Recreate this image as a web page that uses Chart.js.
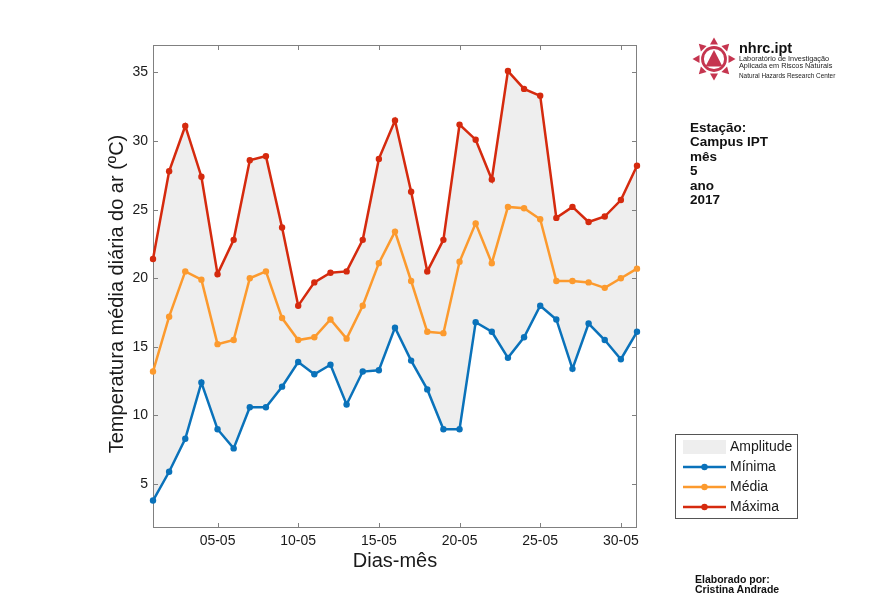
<!DOCTYPE html>
<html>
<head>
    <meta charset="utf-8">
    <title>Temperatura média diária do ar - Campus IPT, maio 2017</title>
    <script src="https://cdn.jsdelivr.net/npm/chart.js@4.4.0/dist/chart.umd.min.js"></script>
    <style>
        body {
            margin: 0;
            background-color: #fff;
            font-family: Arial, "Liberation Sans", sans-serif;
        }
        #wrap {
            position: relative;
            width: 890px;
            height: 593px;
            overflow: hidden;
        }
        #chart {
            position: absolute;
            left: 0;
            top: 0;
        }
        .logo-icon {
            position: absolute;
            left: 692px;
            top: 37px;
        }
        .logo-name {
            position: absolute;
            left: 739px;
            top: 39px;
            font-size: 14.5px;
            font-weight: bold;
            color: #111;
            line-height: 18px;
        }
        .logo-sub {
            position: absolute;
            left: 739px;
            top: 56px;
            font-size: 7.3px;
            line-height: 6.5px;
            color: #222;
            white-space: nowrap;
        }
        .logo-sub2 {
            position: absolute;
            left: 739px;
            top: 72px;
            font-size: 6.4px;
            line-height: 7px;
            color: #222;
            white-space: nowrap;
        }
        .info {
            position: absolute;
            left: 690px;
            top: 121px;
            font-size: 13.5px;
            font-weight: bold;
            line-height: 14.4px;
            color: #111;
        }
        .author {
            position: absolute;
            left: 695px;
            top: 574px;
            font-size: 10.5px;
            font-weight: bold;
            line-height: 10px;
            color: #111;
            white-space: nowrap;
        }
    </style>
</head>
<body>
<div id="wrap">
    <canvas id="chart" width="890" height="593"></canvas>

    <svg class="logo-icon" width="44" height="44" viewBox="0 0 44 44">
        <g fill="#C5354F">
            <circle cx="22" cy="22" r="11.5" fill="none" stroke="#C5354F" stroke-width="2.8"/>
            <polygon points="22,13 13.5,29.5 30.5,29.5"/>
            <polygon points="18,7.5 26,7.5 22,0.5"/>
            <polygon points="18,7.5 26,7.5 22,0.5" transform="rotate(45 22 22)"/>
            <polygon points="18,7.5 26,7.5 22,0.5" transform="rotate(90 22 22)"/>
            <polygon points="18,7.5 26,7.5 22,0.5" transform="rotate(135 22 22)"/>
            <polygon points="18,7.5 26,7.5 22,0.5" transform="rotate(180 22 22)"/>
            <polygon points="18,7.5 26,7.5 22,0.5" transform="rotate(225 22 22)"/>
            <polygon points="18,7.5 26,7.5 22,0.5" transform="rotate(270 22 22)"/>
            <polygon points="18,7.5 26,7.5 22,0.5" transform="rotate(315 22 22)"/>
        </g>
    </svg>
    <div class="logo-name">nhrc.ipt</div>
    <div class="logo-sub">Laboratório de Investigação<br>Aplicada em Riscos Naturais</div>
    <div class="logo-sub2">Natural Hazards Research Center</div>

    <div class="info">Estação:<br>Campus IPT<br>mês<br>5<br>ano<br>2017</div>
    <div class="author">Elaborado por:<br>Cristina Andrade</div>
</div>

<script>
    // dados (maio 2017)
    const dias = [1, 2, 3, 4, 5, 6, 7, 8, 9, 10, 11, 12, 13, 14, 15, 16,
                  17, 18, 19, 20, 21, 22, 23, 24, 25, 26, 27, 28, 29, 30, 31];
    const minima = [3.8, 5.9, 8.3, 12.4, 9.0, 7.6, 10.6, 10.6, 12.1, 13.9, 13.0, 13.7, 10.8, 13.2, 13.3, 16.4,
                    14.0, 11.9, 9.0, 9.0, 16.8, 16.1, 14.2, 15.7, 18.0, 17.0, 13.4, 16.7, 15.5, 14.1, 16.1];
    const media = [13.2, 17.2, 20.5, 19.9, 15.2, 15.5, 20.0, 20.5, 17.1, 15.5, 15.7, 17.0, 15.6, 18.0, 21.1, 23.4,
                   19.8, 16.1, 16.0, 21.2, 24.0, 21.1, 25.2, 25.1, 24.3, 19.8, 19.8, 19.7, 19.3, 20.0, 20.7];
    const maxima = [21.4, 27.8, 31.1, 27.4, 20.3, 22.8, 28.6, 28.9, 23.7, 18.0, 19.7, 20.4, 20.5, 22.8, 28.7, 31.5,
                    26.3, 20.5, 22.8, 31.2, 30.1, 27.2, 35.1, 33.8, 33.3, 24.4, 25.2, 24.1, 24.5, 25.7, 28.2];

    const xTickValues = [5, 10, 15, 20, 25, 30];
    const xTickLabels = ['05-05', '10-05', '15-05', '20-05', '25-05', '30-05'];
    const yTickValues = [5, 10, 15, 20, 25, 30, 35];

    const FONT = 'Arial, "Liberation Sans", sans-serif';
    const AXIS_COLOR = '#808080';
    const TEXT_COLOR = '#1a1a1a';

    const cores = {
        minima: '#0A72BA',
        media: '#FC9A2E',
        maxima: '#D52A0E',
        amplitude: '#EEEEEE'
    };

    function pontos(valores) {
        return dias.map((d, i) => ({x: d, y: valores[i]}));
    }

    function serie(label, valores, cor) {
        return {
            label: label,
            data: pontos(valores),
            borderColor: cor,
            backgroundColor: cor,
            pointBackgroundColor: cor,
            pointBorderWidth: 0,
            pointRadius: 3.2,
            borderWidth: 2.5,
            tension: 0,
            fill: false,
            clip: false
        };
    }

    const dsMax = serie('Máxima', maxima, cores.maxima);
    const dsMed = serie('Média', media, cores.media);
    const dsMin = serie('Mínima', minima, cores.minima);
    // amplitude = área entre máxima e mínima (mínima é o dataset 2)
    dsMax.fill = {target: 2, above: cores.amplitude, below: cores.amplitude};

    // caixa estilo matlab com ticks para dentro
    const caixa = {
        id: 'caixa',
        beforeDatasetsDraw(chart) {
            const {ctx, chartArea: a, scales: {x, y}} = chart;
            ctx.save();
            ctx.strokeStyle = AXIS_COLOR;
            ctx.lineWidth = 1;
            ctx.strokeRect(a.left + 0.5, a.top + 0.5, a.right - a.left - 1, a.bottom - a.top - 1);
            ctx.beginPath();
            xTickValues.forEach(v => {
                const px = Math.round(x.getPixelForValue(v)) + 0.5;
                ctx.moveTo(px, a.bottom);
                ctx.lineTo(px, a.bottom - 5);
                ctx.moveTo(px, a.top);
                ctx.lineTo(px, a.top + 5);
            });
            yTickValues.forEach(v => {
                const py = Math.round(y.getPixelForValue(v)) + 0.5;
                ctx.moveTo(a.left, py);
                ctx.lineTo(a.left + 5, py);
                ctx.moveTo(a.right, py);
                ctx.lineTo(a.right - 5, py);
            });
            ctx.stroke();
            ctx.restore();
        }
    };

    // títulos dos eixos
    const titulos = {
        id: 'titulos',
        afterDraw(chart) {
            const {ctx, chartArea: a} = chart;
            ctx.save();
            ctx.fillStyle = TEXT_COLOR;
            ctx.font = '20px ' + FONT;
            ctx.textAlign = 'center';
            ctx.textBaseline = 'middle';
            ctx.fillText('Dias-mês', (a.left + a.right) / 2, 561);
            ctx.translate(117, 294);
            ctx.rotate(-Math.PI / 2);
            ctx.fillText('Temperatura média diária do ar (ºC)', 0, 0);
            ctx.restore();
        }
    };

    // legenda desenhada na caixa à direita
    const legenda = {
        id: 'legenda',
        afterDraw(chart) {
            const ctx = chart.ctx;
            const box = {x: 675, y: 434, w: 122, h: 84};
            ctx.save();
            ctx.fillStyle = '#fff';
            ctx.fillRect(box.x, box.y, box.w, box.h);
            ctx.strokeStyle = '#555';
            ctx.lineWidth = 1;
            ctx.strokeRect(box.x + 0.5, box.y + 0.5, box.w, box.h);

            ctx.font = '14px ' + FONT;
            ctx.textBaseline = 'middle';
            ctx.textAlign = 'left';

            // amplitude
            ctx.fillStyle = cores.amplitude;
            ctx.fillRect(683, 440, 43, 14);
            ctx.fillStyle = TEXT_COLOR;
            ctx.fillText('Amplitude', 730, 447);

            // mínima, média, máxima
            const itens = chart.data.datasets.slice().reverse();
            itens.forEach((ds, i) => {
                const yy = 467 + i * 20;
                ctx.strokeStyle = ds.borderColor;
                ctx.lineWidth = 2.5;
                ctx.beginPath();
                ctx.moveTo(683, yy);
                ctx.lineTo(726, yy);
                ctx.stroke();
                ctx.fillStyle = ds.borderColor;
                ctx.beginPath();
                ctx.arc(704.5, yy, 3.2, 0, Math.PI * 2);
                ctx.fill();
                ctx.fillStyle = TEXT_COLOR;
                ctx.fillText(ds.label, 730, yy);
            });
            ctx.restore();
        }
    };

    const ctx = document.getElementById('chart').getContext('2d');
    new Chart(ctx, {
        type: 'line',
        data: {
            datasets: [dsMax, dsMed, dsMin]
        },
        options: {
            responsive: false,
            animation: false,
            layout: {
                padding: {left: 0, top: 45, right: 253, bottom: 0}
            },
            plugins: {
                legend: {display: false},
                tooltip: {enabled: false},
                filler: {drawTime: 'beforeDraw'}
            },
            scales: {
                x: {
                    type: 'linear',
                    min: 1,
                    max: 31,
                    grid: {display: false, drawTicks: false},
                    border: {display: false},
                    afterBuildTicks: scale => {
                        scale.ticks = xTickValues.map(v => ({value: v}));
                    },
                    afterFit: scale => {
                        scale.height = 65;
                    },
                    ticks: {
                        autoSkip: false,
                        maxRotation: 0,
                        padding: 5,
                        color: TEXT_COLOR,
                        font: {family: FONT, size: 14},
                        callback: (value, index) => xTickLabels[index]
                    }
                },
                y: {
                    type: 'linear',
                    min: 1.8,
                    max: 37,
                    grid: {display: false, drawTicks: false},
                    border: {display: false},
                    afterBuildTicks: scale => {
                        scale.ticks = yTickValues.map(v => ({value: v}));
                    },
                    afterFit: scale => {
                        scale.width = 153;
                    },
                    ticks: {
                        padding: 5,
                        color: TEXT_COLOR,
                        font: {family: FONT, size: 14},
                        callback: value => String(value)
                    }
                }
            }
        },
        plugins: [caixa, titulos, legenda]
    });
</script>
</body>
</html>
